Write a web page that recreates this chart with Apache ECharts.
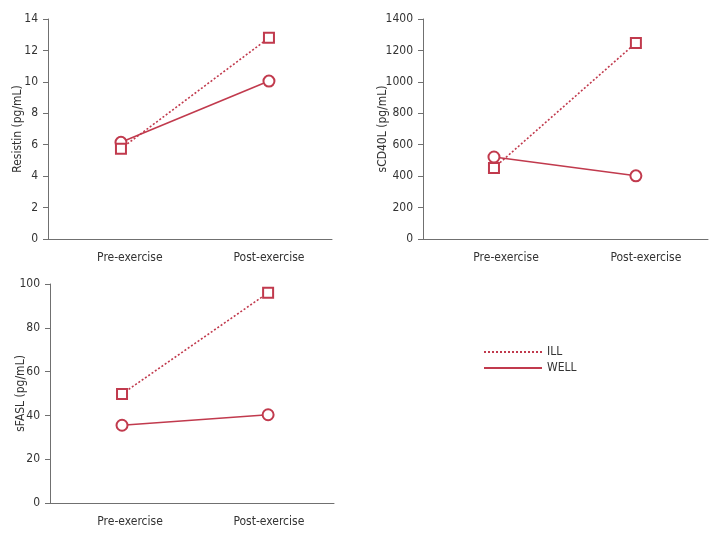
<!DOCTYPE html>
<html>
<head>
<meta charset="utf-8">
<script src="https://cdn.jsdelivr.net/npm/echarts@6/dist/echarts.min.js"></script>
<style>
  html, body { margin: 0; padding: 0; background: #fff; }
  #chart { width: 720px; height: 540px; }
</style>
</head>
<body>
<div id="chart"></div>
<script>
// data
const phases = ["Pre-exercise", "Post-exercise"];
const seriesNames = ["ILL", "WELL"];

const resistinIll = [5.75, 12.8];
const resistinWell = [6.15, 10.05];
const cd40lIll = [452, 1248];
const cd40lWell = [522, 402];
const faslIll = [49.8, 96];
const faslWell = [35.5, 40.3];

const panelNames = ["Resistin (pg/mL)", "sCD40L (pg/mL)", "sFASL (pg/mL)"];
const panelMax = [14, 1400, 100];
const panelStep = [2, 200, 20];

const RED = "#c13a4d";
const AXIS = "#707070";
const FONT = "'DejaVu Sans Condensed', sans-serif";

// x is a value axis so the phases can sit off-centre like in the figure;
// labelAt: where the phase labels sit (the original prints them slightly right of the points)
const panels = [
  { ill: resistinIll, well: resistinWell, grid: { left: 48, top: 19, width: 284, height: 220 }, xr: [-0.493, 1.426], labelAt: [0.06, 1.0], nameGap: 24 },
  { ill: cd40lIll, well: cd40lWell, grid: { left: 423, top: 19, width: 285, height: 220 }, xr: [-0.5, 1.508], labelAt: [0.085, 1.07], nameGap: 34 },
  { ill: faslIll, well: faslWell, grid: { left: 50, top: 284, width: 284, height: 219 }, xr: [-0.493, 1.451], labelAt: [0.055, 1.005], nameGap: 23 },
];

const toPts = (arr) => arr.map((v, k) => [k, v]);

const grid = [], xAxis = [], yAxis = [], series = [];

panels.forEach((p, i) => {
  grid.push(p.grid);
  xAxis.push({
    type: "value",
    gridIndex: i,
    min: p.xr[0],
    max: p.xr[1],
    axisLine: { show: true, onZero: false, lineStyle: { color: AXIS, width: 1 } },
    axisTick: { show: false },
    splitLine: { show: false },
    axisLabel: {
      customValues: p.labelAt,
      formatter: (v) => phases[Math.round(v)],
      color: "#333",
      fontFamily: FONT,
      fontSize: 12,
      margin: 13,
    },
  });
  yAxis.push({
    type: "value",
    gridIndex: i,
    min: 0,
    max: panelMax[i],
    interval: panelStep[i],
    name: panelNames[i],
    nameLocation: "middle",
    nameGap: p.nameGap,
    nameMoveOverlap: false,
    nameTextStyle: { color: "#333", fontFamily: FONT, fontSize: 12 },
    axisLine: { show: true, onZero: false, lineStyle: { color: AXIS, width: 1 } },
    axisTick: { show: true, length: 5, lineStyle: { color: AXIS } },
    axisLabel: { color: "#333", fontFamily: FONT, fontSize: 12, margin: 10, formatter: (v) => String(v) },
    splitLine: { show: false },
  });
  series.push({
    name: seriesNames[0],
    type: "line",
    xAxisIndex: i,
    yAxisIndex: i,
    data: toPts(p.ill),
    symbol: "emptyRect",
    symbolSize: 10,
    color: RED,
    lineStyle: { color: RED, width: 1.6, type: [2, 2] },
    itemStyle: { color: RED, borderWidth: 1.8 },
    animation: false,
    z: 3,
  });
  series.push({
    name: seriesNames[1],
    type: "line",
    xAxisIndex: i,
    yAxisIndex: i,
    data: toPts(p.well),
    symbol: "emptyCircle",
    symbolSize: 11,
    color: RED,
    lineStyle: { color: RED, width: 1.6 },
    itemStyle: { color: RED, borderWidth: 1.8 },
    animation: false,
    z: 2,
  });
});

const chart = echarts.init(document.getElementById("chart"));
chart.setOption({
  backgroundColor: "#fff",
  animation: false,
  grid,
  xAxis,
  yAxis,
  series,
  legend: {
    data: seriesNames,
    orient: "vertical",
    left: 478,
    top: 341,
    itemWidth: 58,
    itemHeight: 2,
    itemGap: 4,
    itemStyle: { opacity: 0 },
    textStyle: { color: "#333", fontFamily: FONT, fontSize: 12 },
  },
});
</script>
</body>
</html>
